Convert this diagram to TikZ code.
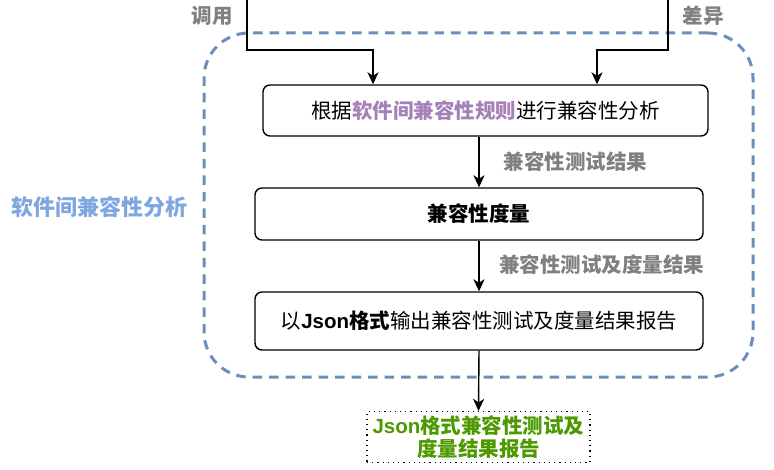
\documentclass[tikz,border=0pt]{standalone}
\usepackage{fontspec}
\setmainfont{Noto Sans CJK SC}
\newfontfamily\latinfont{Liberation Sans}
\usetikzlibrary{arrows.meta,calc}
\definecolor{grouplue}{HTML}{6C8EBF}
\definecolor{lblblue}{HTML}{7EA6E0}
\definecolor{lblgray}{HTML}{808080}
\definecolor{rulepurple}{HTML}{A680B8}
\definecolor{outgreen}{HTML}{4D9900}
\tikzset{
  procbox/.style={draw=black, line width=1.4pt, rounded corners=7pt, fill=white,
    font=\fontsize{20.5}{24}\selectfont, inner sep=0pt},
  arr/.style={draw=black, line width=1.4pt, -{Stealth[length=12pt,width=11pt,inset=3.5pt]}},
  edgelbl/.style={text=lblgray, font=\fontsize{20.5}{24}\selectfont\bfseries, inner sep=0pt},
  grp/.style={draw=grouplue, line width=3pt, dash pattern=on 9.5pt off 7pt, rounded corners=45pt},
}
\begin{document}
\begin{tikzpicture}[x=1pt,y=-1pt]
\useasboundingbox (0,0) rectangle (774,470);
\node[grp, minimum width=549pt, minimum height=344pt, inner sep=0pt] (group) at (478.5,205) {};
\node[text=lblblue, font=\fontsize{22}{26}\selectfont\bfseries, inner sep=0pt] (grouplbl) at (100,207) {软件间兼容性分析};
\node[procbox, minimum width=445pt, minimum height=51pt] (box1) at (485.5,110.5)
  {根据\textcolor{rulepurple}{\bfseries 软件间兼容性规则}进行兼容性分析};
\node[procbox, minimum width=448pt, minimum height=52pt] (box2) at (479,214)
  {\bfseries 兼容性度量};
\node[procbox, minimum width=448pt, minimum height=58pt] (box3) at (479,321)
  {以\textbf{{\latinfont Json}格式}输出兼容性测试及度量结果报告};
\node[draw=black, line width=1.2pt, dash pattern=on 1.2pt off 4pt, minimum width=223pt, minimum height=51pt,
  inner sep=0pt, align=center, text=outgreen, font=\fontsize{20.5}{23.5}\selectfont\bfseries] (out) at (478.5,437)
  {{\latinfont Json}格式兼容性测试及\\度量结果报告};
\coordinate (tl) at (247,-2);
\coordinate (tlb) at (373,50);
\coordinate (tr) at (668,-2);
\coordinate (trb) at (597,50);
\draw[arr] (tl) |- (tlb) -- (box1.north -| tlb);
\draw[arr] (tr) |- (trb) -- (box1.north -| trb);
\node[edgelbl] (lblcall) at (212,16) {调用};
\node[edgelbl] (lbldiff) at (703,16) {差异};
\draw[arr] (box1.south -| box2.north) -- (box2.north);
\draw[arr] (box2.south) -- (box3.north);
\draw[arr] (box3.south) -- (out.north);
\node[edgelbl] (lbl1) at (575.5,162) {兼容性测试结果};
\node[edgelbl] (lbl2) at (601.5,265) {兼容性测试及度量结果};
\end{tikzpicture}
\end{document}
